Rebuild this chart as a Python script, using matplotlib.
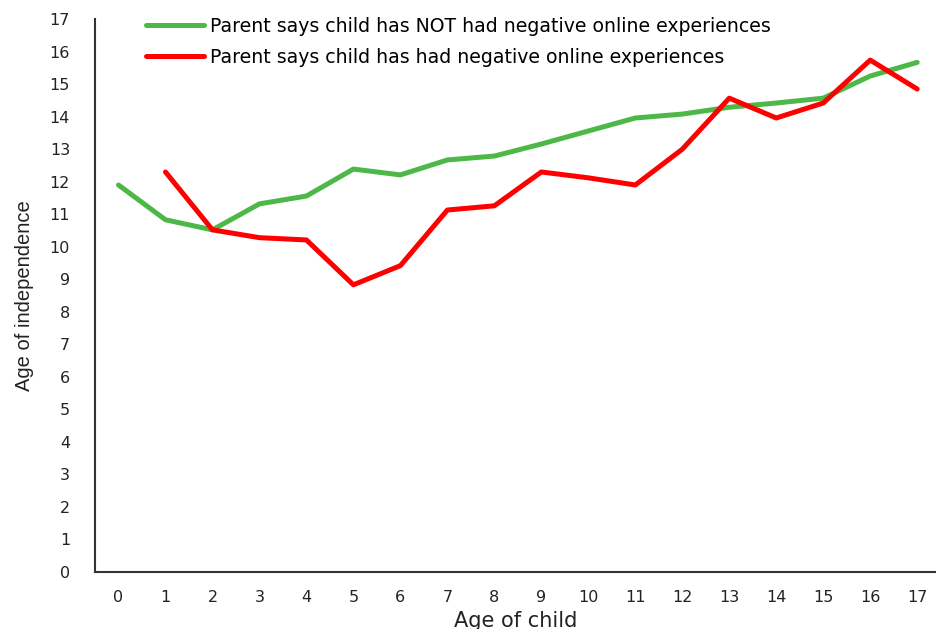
import matplotlib
matplotlib.use('Agg')
import matplotlib.pyplot as plt

ages = list(range(18))
no_neg = [11.9, 10.83, 10.52, 11.32, 11.56, 12.39, 12.21, 12.67, 12.79, 13.16,
          13.56, 13.96, 14.08, 14.29, 14.42, 14.57, 15.25, 15.67]
neg_ages = list(range(1, 18))
neg = [12.3, 10.52, 10.28, 10.21, 8.83, 9.42, 11.13, 11.26, 12.3, 12.12,
       11.9, 13.0, 14.57, 13.96, 14.42, 15.74, 14.85]

plt.rcParams['font.family'] = ['DejaVu Sans']

fig = plt.figure(figsize=(9.36, 6.29), dpi=100)
ax = fig.add_axes([0.1015, 0.0906, 0.8985, 0.879])

ax.plot(ages, no_neg, color='#4DB848', lw=3.6, solid_capstyle='round',
        label='Parent says child has NOT had negative online experiences')
ax.plot(neg_ages, neg, color='#FF0000', lw=3.6, solid_capstyle='round',
        label='Parent says child has had negative online experiences')

ax.set_xlim(-0.5, 17.4)
ax.set_ylim(0, 17)
ax.set_xticks(ages)
ax.set_yticks(range(18))
ax.tick_params(length=0, labelsize=11.5, colors='#222222')
ax.tick_params(axis='x', pad=13)
ax.tick_params(axis='y', pad=18)
for s in ['top', 'right']:
    ax.spines[s].set_visible(False)
for s in ['left', 'bottom']:
    ax.spines[s].set_color('#333333')
    ax.spines[s].set_linewidth(1.5)

ax.set_xlabel('Age of child', fontsize=15, labelpad=4, color='#222222')
ax.set_ylabel('Age of independence', fontsize=14.5, color='#222222',
              family=['Liberation Sans', 'DejaVu Sans'], labelpad=11)

ax.legend(loc='upper left', bbox_to_anchor=(0.04, 1.035), frameon=False, fontsize=13.6,
          handlelength=3.1, handletextpad=0.3, labelspacing=0.65)

fig.savefig('out.png', dpi=100)
